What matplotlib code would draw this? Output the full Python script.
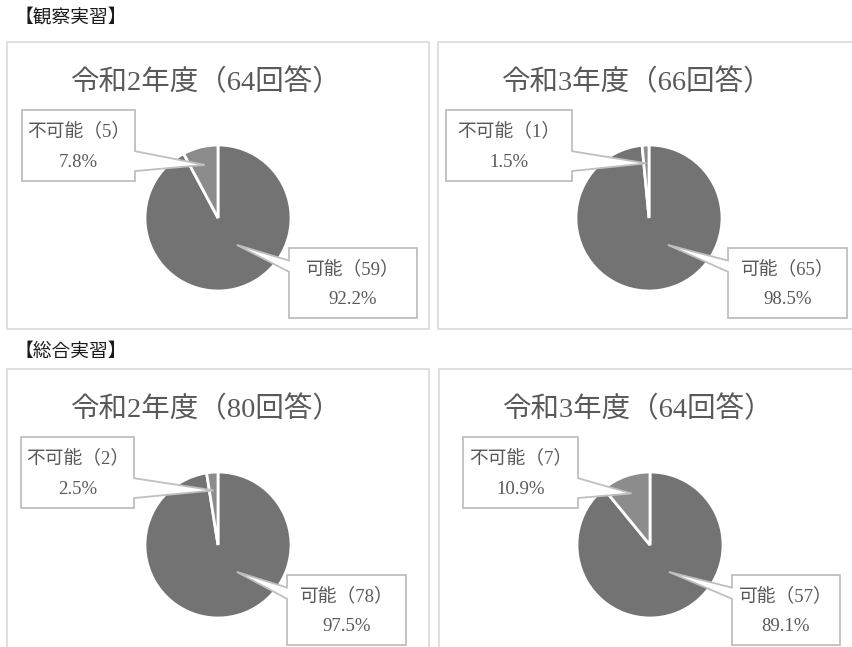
import numpy as np
import matplotlib.pyplot as plt
from matplotlib.patches import Rectangle, Polygon

plt.rcParams['font.family'] = ['Liberation Serif', 'Noto Sans CJK JP', 'DejaVu Sans']

# data
sections = ["【観察実習】", "【総合実習】"]
titles = ["令和2年度（64回答）", "令和3年度（66回答）",
          "令和2年度（80回答）", "令和3年度（64回答）"]
labels = ["可能", "不可能"]
possible = [59, 65, 78, 57]
impossible = [5, 1, 2, 7]

colors = ["#737373", "#8c8c8c"]
text_color = "#595959"

W, H = 852, 647
fig = plt.figure(figsize=(W / 100, H / 100), dpi=100)
ax = fig.add_axes([0, 0, 1, 1])


def Y(yp):
    # pixel row (from top) -> data y
    return H - yp


# panel top-left corners (px) and callout box x offsets
origins = [(7, 42), (438, 42), (7, 369), (439, 369)]
ng_box_x = [15, 8, 14, 24]
ng_box_w = [113, 126, 113, 115]
ok_box_x = [282, 290, 280, 293]
ok_box_w = [128, 119, 119, 108]
PW, PH = 422, 287
R = 73


def callout(x0, yt, w, h, side, f1, f2, tip, line1, line2):
    x1, yb = x0 + w, yt + h
    if side == "right":
        pts = [(x0, yt), (x1, yt), (x1, yt + f1 * h), tip,
               (x1, yt + f2 * h), (x1, yb), (x0, yb)]
    else:
        pts = [(x0, yt), (x1, yt), (x1, yb), (x0, yb),
               (x0, yt + f2 * h), tip, (x0, yt + f1 * h)]
    poly = Polygon([(px, Y(py)) for px, py in pts], closed=True,
                   facecolor="white", edgecolor="#bfbfbf", lw=1.3, zorder=5)
    ax.add_patch(poly)
    cx = x0 + w / 2
    ax.text(cx, Y(yt + 0.30 * h), line1, ha="center", va="center",
            fontsize=13.5, color=text_color, zorder=6)
    ax.text(cx, Y(yt + 0.74 * h), line2, ha="center", va="center",
            fontsize=13.5, color=text_color, zorder=6)


for i, (ox, oy) in enumerate(origins):
    ax.add_patch(Rectangle((ox, Y(oy + PH)), PW, PH, facecolor="white",
                           edgecolor="#d9d9d9", lw=1.2, zorder=1))
    ax.text(ox + 198, Y(oy + 41), titles[i], ha="center", va="center",
            fontsize=20.5, color=text_color, zorder=2)

    vals = [possible[i], impossible[i]]
    total = sum(vals)
    cx, cy = ox + 211, oy + 176
    wedges, _ = ax.pie(vals, colors=colors, startangle=90, counterclock=False,
                       center=(cx, Y(cy)), radius=R, frame=True,
                       wedgeprops=dict(edgecolor="white", linewidth=2))
    for wdg in wedges:
        wdg.set_zorder(3)

    # tip inside the small slice (mid-angle)
    ng = wedges[1]
    a = np.deg2rad((ng.theta1 + ng.theta2) / 2)
    tip_ng = (cx + 0.75 * R * np.cos(a), cy - 0.75 * R * np.sin(a))
    a2 = np.deg2rad(-55)
    tip_ok = (cx + 0.45 * R * np.cos(a2), cy - 0.45 * R * np.sin(a2))

    callout(ox + ng_box_x[i], oy + 68, ng_box_w[i], 71, "right", 0.58, 0.86,
            tip_ng, f"{labels[1]}（{impossible[i]}）",
            f"{impossible[i] / total * 100:.1f}%")
    callout(ox + ok_box_x[i], oy + 206, ok_box_w[i], 70, "left", 0.18, 0.34,
            tip_ok, f"{labels[0]}（{possible[i]}）",
            f"{possible[i] / total * 100:.1f}%")

ax.text(15, Y(18), sections[0], ha="left", va="center", fontsize=13.5,
        color="#1a1a1a")
ax.text(15, Y(352), sections[1], ha="left", va="center", fontsize=13.5,
        color="#1a1a1a")

ax.set_xlim(0, W)
ax.set_ylim(0, H)
ax.axis("off")

fig.savefig("out.png", dpi=100, facecolor="white")
